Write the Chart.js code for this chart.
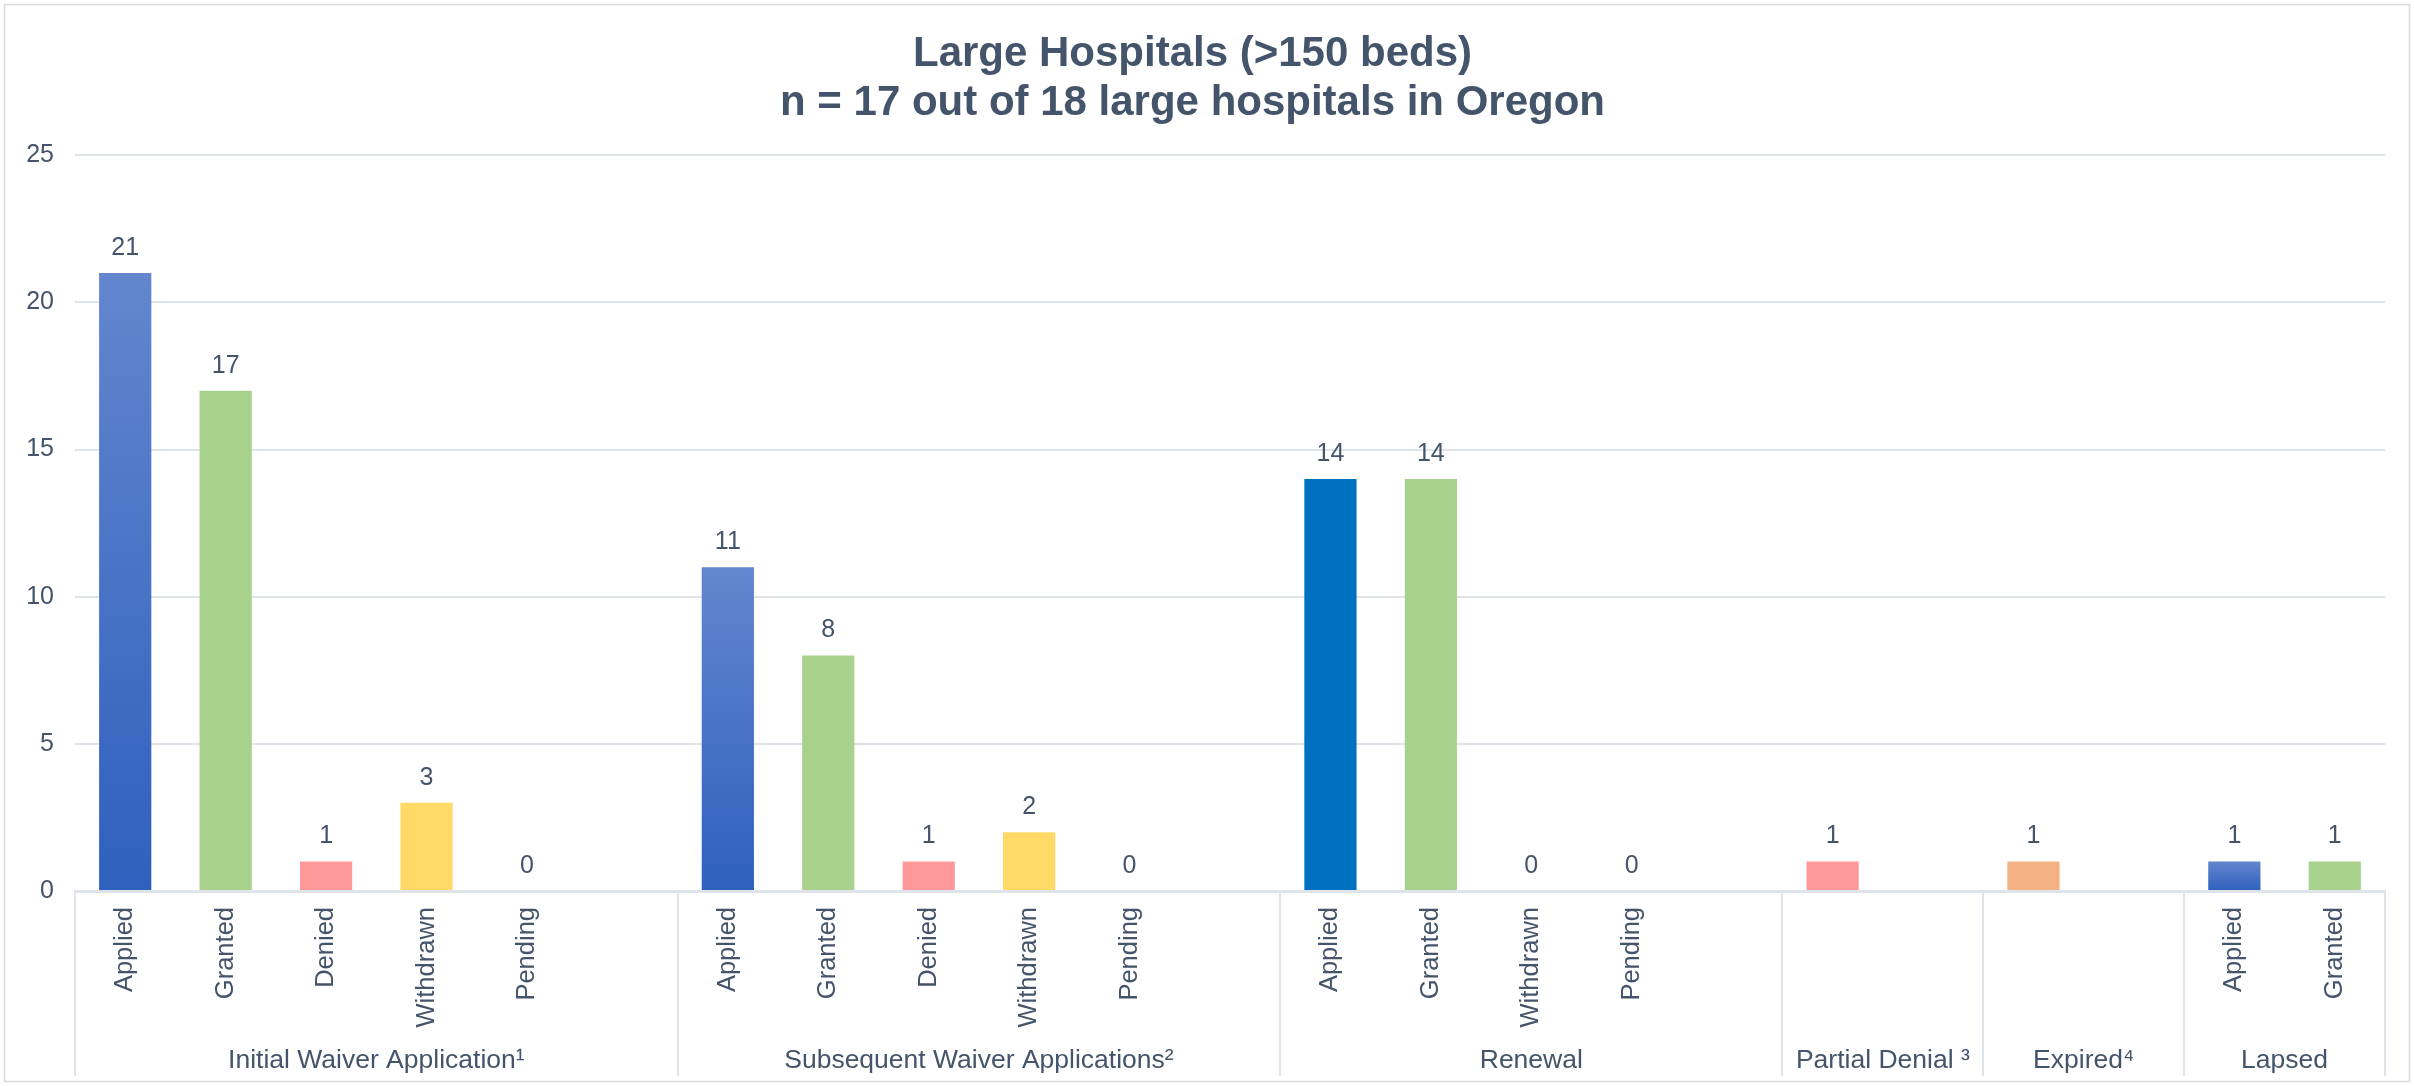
<!DOCTYPE html>
<html>
<head>
<meta charset="utf-8">
<script src="https://cdn.jsdelivr.net/npm/chart.js@4"></script>
<style>
  html, body { margin: 0; padding: 0; background: #fff; }
  #wrap { position: relative; width: 2414px; height: 1086px; }
</style>
</head>
<body>
<div id="wrap"><canvas id="hospChart"></canvas></div>
<script>
// Slot labels along the x axis ('' = empty spacer slot)
const slotLabels = [
  'Applied', 'Granted', 'Denied', 'Withdrawn', 'Pending', '',
  'Applied', 'Granted', 'Denied', 'Withdrawn', 'Pending', '',
  'Applied', 'Granted', 'Withdrawn', 'Pending', '',
  '', '',
  '', '',
  'Applied', 'Granted'
];
// Counts (null = no bar, no label)
const slotValues = [
  21, 17, 1, 3, 0, null,
  11, 8, 1, 2, 0, null,
  14, 14, 0, 0, null,
  1, null,
  1, null,
  1, 1
];
// Which colour each slot uses
const slotKinds = [
  'applied', 'granted', 'denied', 'withdrawn', 'pending', '',
  'applied', 'granted', 'denied', 'withdrawn', 'pending', '',
  'renewal', 'granted', 'withdrawn', 'pending', '',
  'denied', '',
  'expired', '',
  'applied', 'granted'
];
const groupNames = ['Initial Waiver Application¹', 'Subsequent Waiver Applications²', 'Renewal', 'Partial Denial ³', 'Expired⁴', 'Lapsed'];
const groupSizes = [6, 6, 5, 2, 2, 2];
const yTicks = [0, 5, 10, 15, 20, 25];

const TEXT = '#44546A';
const LINE = '#DFE3EA';
const FONT = "'Liberation Sans', Arial, sans-serif";

const kindColors = {
  granted: '#A9D18E',
  denied: '#FF9999',
  withdrawn: '#FFD966',
  pending: '#A5A5A5',
  renewal: '#0070C0',
  expired: '#F4B183'
};

function barColor(c) {
  const kind = slotKinds[c.dataIndex];
  if (kind !== 'applied') return kindColors[kind] || 'transparent';
  const chart = c.chart;
  const yScale = chart.scales.y;
  if (!yScale || c.raw == null) return '#4472C4';
  const top = yScale.getPixelForValue(c.raw);
  const bottom = yScale.getPixelForValue(0);
  if (!isFinite(top) || !isFinite(bottom) || top === bottom) return '#4472C4';
  const g = chart.ctx.createLinearGradient(0, top, 0, bottom);
  g.addColorStop(0, '#6386CE');
  g.addColorStop(1, '#2E60BD');
  return g;
}

// outer frame
const framePlugin = {
  id: 'frame',
  beforeDraw(chart) {
    const ctx = chart.ctx;
    ctx.save();
    ctx.strokeStyle = '#D9D9D9';
    ctx.lineWidth = 1.5;
    ctx.strokeRect(4.5, 4.5, chart.width - 9, chart.height - 9);
    ctx.restore();
  }
};

// value labels above bars
const valueLabels = {
  id: 'valueLabels',
  afterDatasetsDraw(chart) {
    const ctx = chart.ctx;
    const meta = chart.getDatasetMeta(0);
    ctx.save();
    ctx.fillStyle = TEXT;
    ctx.font = '25px ' + FONT;
    ctx.textAlign = 'center';
    ctx.textBaseline = 'middle';
    meta.data.forEach((bar, i) => {
      const v = slotValues[i];
      if (v == null) return;
      ctx.fillText(String(v), bar.x, bar.y - 25);
    });
    ctx.restore();
  }
};

// group labels and separators under the x axis
const groupAxis = {
  id: 'groupAxis',
  afterDraw(chart) {
    const ctx = chart.ctx;
    const x = chart.scales.x;
    const area = chart.chartArea;
    const step = x.getPixelForValue(1) - x.getPixelForValue(0);
    ctx.save();
    ctx.strokeStyle = LINE;
    ctx.lineWidth = 2;
    ctx.fillStyle = TEXT;
    ctx.font = '26.5px ' + FONT;
    ctx.textAlign = 'center';
    ctx.textBaseline = 'middle';
    let start = 0;
    const edges = [x.getPixelForValue(0) - step / 2];
    groupSizes.forEach((n, gi) => {
      const left = x.getPixelForValue(start) - step / 2;
      const right = x.getPixelForValue(start + n - 1) + step / 2;
      edges.push(right);
      ctx.fillText(groupNames[gi], (left + right) / 2, 1061);
      start += n;
    });
    edges.forEach(px => {
      ctx.beginPath();
      ctx.moveTo(Math.round(px), area.bottom);
      ctx.lineTo(Math.round(px), 1076);
      ctx.stroke();
    });
    ctx.restore();
  }
};

const ctx = document.getElementById('hospChart').getContext('2d');
const hospChart = new Chart(ctx, {
  type: 'bar',
  data: {
    labels: slotLabels,
    datasets: [{
      data: slotValues,
      backgroundColor: barColor,
      borderWidth: 0,
      barPercentage: 0.52,
      categoryPercentage: 1
    }]
  },
  options: {
    responsive: true,
    maintainAspectRatio: false,
    animation: false,
    layout: { padding: { left: 0, right: 29, top: 0, bottom: 0 } },
    plugins: {
      legend: { display: false },
      tooltip: { enabled: false },
      title: {
        display: true,
        text: ['Large Hospitals (>150 beds)', 'n = 17 out of 18 large hospitals in Oregon'],
        color: TEXT,
        font: { family: FONT, size: 42, weight: 'bold', lineHeight: 1.17 },
        padding: { top: 30, bottom: 27 }
      }
    },
    scales: {
      x: {
        grid: { display: false, drawTicks: false },
        border: { display: true, color: LINE, width: 3 },
        ticks: {
          autoSkip: false,
          maxRotation: 90,
          minRotation: 90,
          padding: 16,
          color: TEXT,
          font: { family: FONT, size: 25.5 }
        },
        afterFit(s) { s.height = 195; }
      },
      y: {
        min: 0,
        max: 25,
        afterBuildTicks(s) { s.ticks = yTicks.map(v => ({ value: v })); },
        grid: { color: LINE, lineWidth: 2, drawTicks: false },
        border: { display: false },
        ticks: {
          padding: 21,
          color: TEXT,
          font: { family: FONT, size: 25 }
        },
        afterFit(s) { s.width = 75; }
      }
    }
  },
  plugins: [framePlugin, valueLabels, groupAxis]
});
</script>
</body>
</html>
